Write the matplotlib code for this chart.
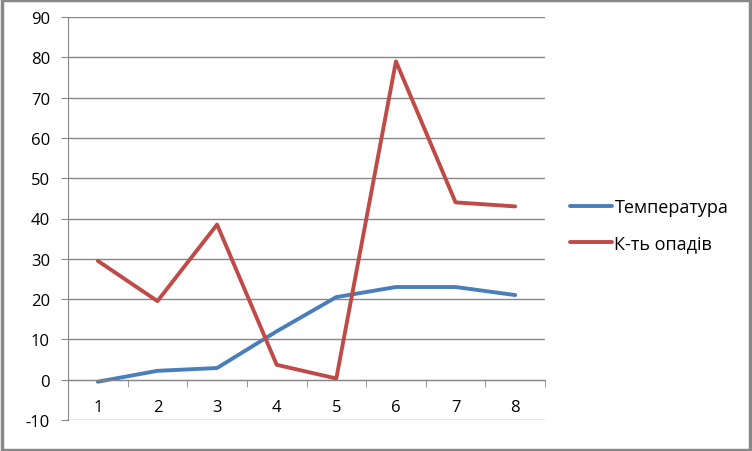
import numpy as np
import matplotlib.pyplot as plt
from matplotlib.patches import Rectangle

plt.rcParams['font.family'] = ['Open Sans', 'DejaVu Sans']
plt.rcParams['axes.unicode_minus'] = False

months = [1, 2, 3, 4, 5, 6, 7, 8]
temperature = [-0.5, 2.2, 2.9, 12.0, 20.5, 23.0, 23.0, 21.0]
precipitation = [29.5, 19.5, 38.5, 3.7, 0.3, 79.0, 44.0, 43.0]

grid_col = '#868686'

fig = plt.figure(figsize=(7.52, 4.52), dpi=100)
ax = fig.add_axes([68 / 752, 1 - 421 / 452, 477 / 752, 403 / 452])

ax.plot(months, temperature, color='#4A7EBB', lw=2.8, label='Температура', solid_capstyle='round')
ax.plot(months, precipitation, color='#BE4B48', lw=2.8, label='К-ть опадів', solid_capstyle='round')

ax.set_xlim(0.5, 8.5)
ax.set_ylim(-10, 90)
ax.set_yticks(np.arange(-10, 91, 10))
ax.yaxis.grid(True, color=grid_col, lw=1)
ax.set_axisbelow(True)

for s in ['top', 'right']:
    ax.spines[s].set_visible(False)
ax.spines['left'].set_color(grid_col)
ax.spines['bottom'].set_color(grid_col)
ax.spines['bottom'].set_position(('data', 0))

ax.tick_params(axis='y', direction='out', length=5, color=grid_col, pad=8, labelsize=12)
ax.set_xticks(months)
ax.set_xticklabels([str(m) for m in months])
ax.set_xticks(np.arange(0.5, 9, 1), minor=True)
ax.tick_params(axis='x', which='major', length=0, pad=14, labelsize=12)
ax.tick_params(axis='x', which='minor', direction='out', length=5, color=grid_col)

fig.legend(loc='center left', bbox_to_anchor=(554 / 752, 1 - 226 / 452), frameon=False,
           fontsize=13, handlelength=2.3, handletextpad=0.15, labelspacing=1.0)

fig.patches.append(Rectangle((0.002, 0.003), 0.995, 0.994, transform=fig.transFigure,
                             fill=False, edgecolor='#888888', lw=2.5))

fig.savefig('out.png', dpi=100)
